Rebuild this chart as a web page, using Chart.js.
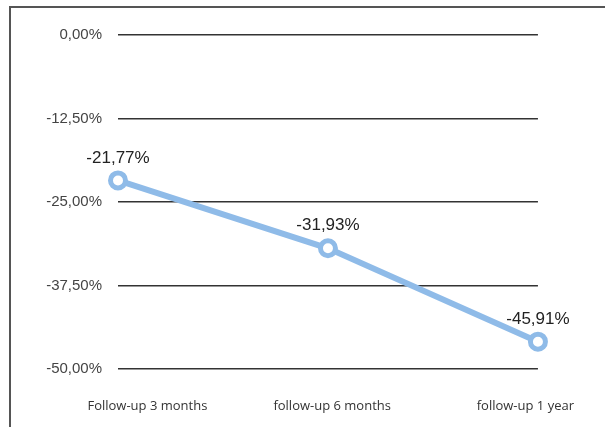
<!DOCTYPE html>
<html>
<head>
<meta charset="utf-8">
<script src="https://cdn.jsdelivr.net/npm/chart.js@4/dist/chart.umd.min.js"></script>
<style>
  html, body { margin: 0; padding: 0; background: #fff; }
  #wrap { position: relative; width: 605px; height: 427px; overflow: hidden; }
  #frame { position: absolute; left: 9px; top: 6px; width: 700px; height: 500px;
           border-left: 2px solid #555; border-top: 2px solid #555; }
  canvas { position: absolute; left: 0; top: 0; }
</style>
</head>
<body>
<div id="wrap">
  <div id="frame"></div>
  <canvas id="chart" width="605" height="427"></canvas>
</div>
<script>
// values
var categories = ["Follow-up 3 months", "follow-up 6 months", "follow-up 1 year"];
var changePct = [-21.77, -31.93, -45.91];
var yTicks = [0, -12.5, -25, -37.5, -50];

function fmt(v) {
  return v.toFixed(2).replace('.', ',') + '%';
}

// labels under the axis sit a bit off the points in the original
var labelShift = [0.14, 0.02, -0.06];

// draws the value above each point
var valueLabels = {
  id: 'valueLabels',
  afterDatasetsDraw: function(chart) {
    var ctx = chart.ctx;
    var meta = chart.getDatasetMeta(0);
    ctx.save();
    ctx.font = '17px "Liberation Sans", Arial, sans-serif';
    ctx.fillStyle = '#222';
    ctx.textAlign = 'center';
    ctx.textBaseline = 'bottom';
    meta.data.forEach(function(pt, i) {
      ctx.fillText(fmt(changePct[i]), pt.x, pt.y - 14);
    });
    ctx.restore();
  }
};

new Chart(document.getElementById('chart'), {
  type: 'line',
  data: {
    datasets: [{
      data: changePct.map(function(v, i) { return {x: i, y: v}; }),
      borderColor: '#8fbbe8',
      borderWidth: 6,
      pointRadius: 7.5,
      pointBorderWidth: 5,
      pointBackgroundColor: '#fff',
      pointBorderColor: '#8fbbe8',
      tension: 0,
      clip: false
    }]
  },
  options: {
    responsive: false,
    animation: false,
    layout: { padding: { left: 0, right: 64, top: 35, bottom: 0 } },
    plugins: { legend: { display: false }, tooltip: { enabled: false } },
    scales: {
      x: {
        type: 'linear', min: 0, max: categories.length - 1,
        display: false
      },
      x2: {
        type: 'linear', position: 'bottom', min: 0, max: categories.length - 1,
        grid: { display: false, drawTicks: false },
        border: { display: false },
        afterBuildTicks: function(scale) {
          scale.ticks = categories.map(function(c, i) { return {value: i + labelShift[i]}; });
        },
        afterFit: function(scale) { scale.height = 58; },
        ticks: {
          autoSkip: false, maxRotation: 0, padding: 29,
          color: '#333',
          font: { family: '"Open Sans", sans-serif', size: 13 },
          callback: function(v, i) { return categories[i]; }
        }
      },
      y: {
        min: -50, max: 0,
        afterBuildTicks: function(scale) {
          scale.ticks = yTicks.map(function(v) { return {value: v}; });
        },
        afterFit: function(scale) { scale.width = 118; },
        grid: { color: '#333', lineWidth: 1.5, drawTicks: false },
        border: { display: false },
        ticks: {
          padding: 16,
          color: '#444',
          font: { family: '"Liberation Sans", Arial, sans-serif', size: 15 },
          callback: function(v) { return fmt(v); }
        }
      }
    }
  },
  plugins: [valueLabels]
});
</script>
</body>
</html>
